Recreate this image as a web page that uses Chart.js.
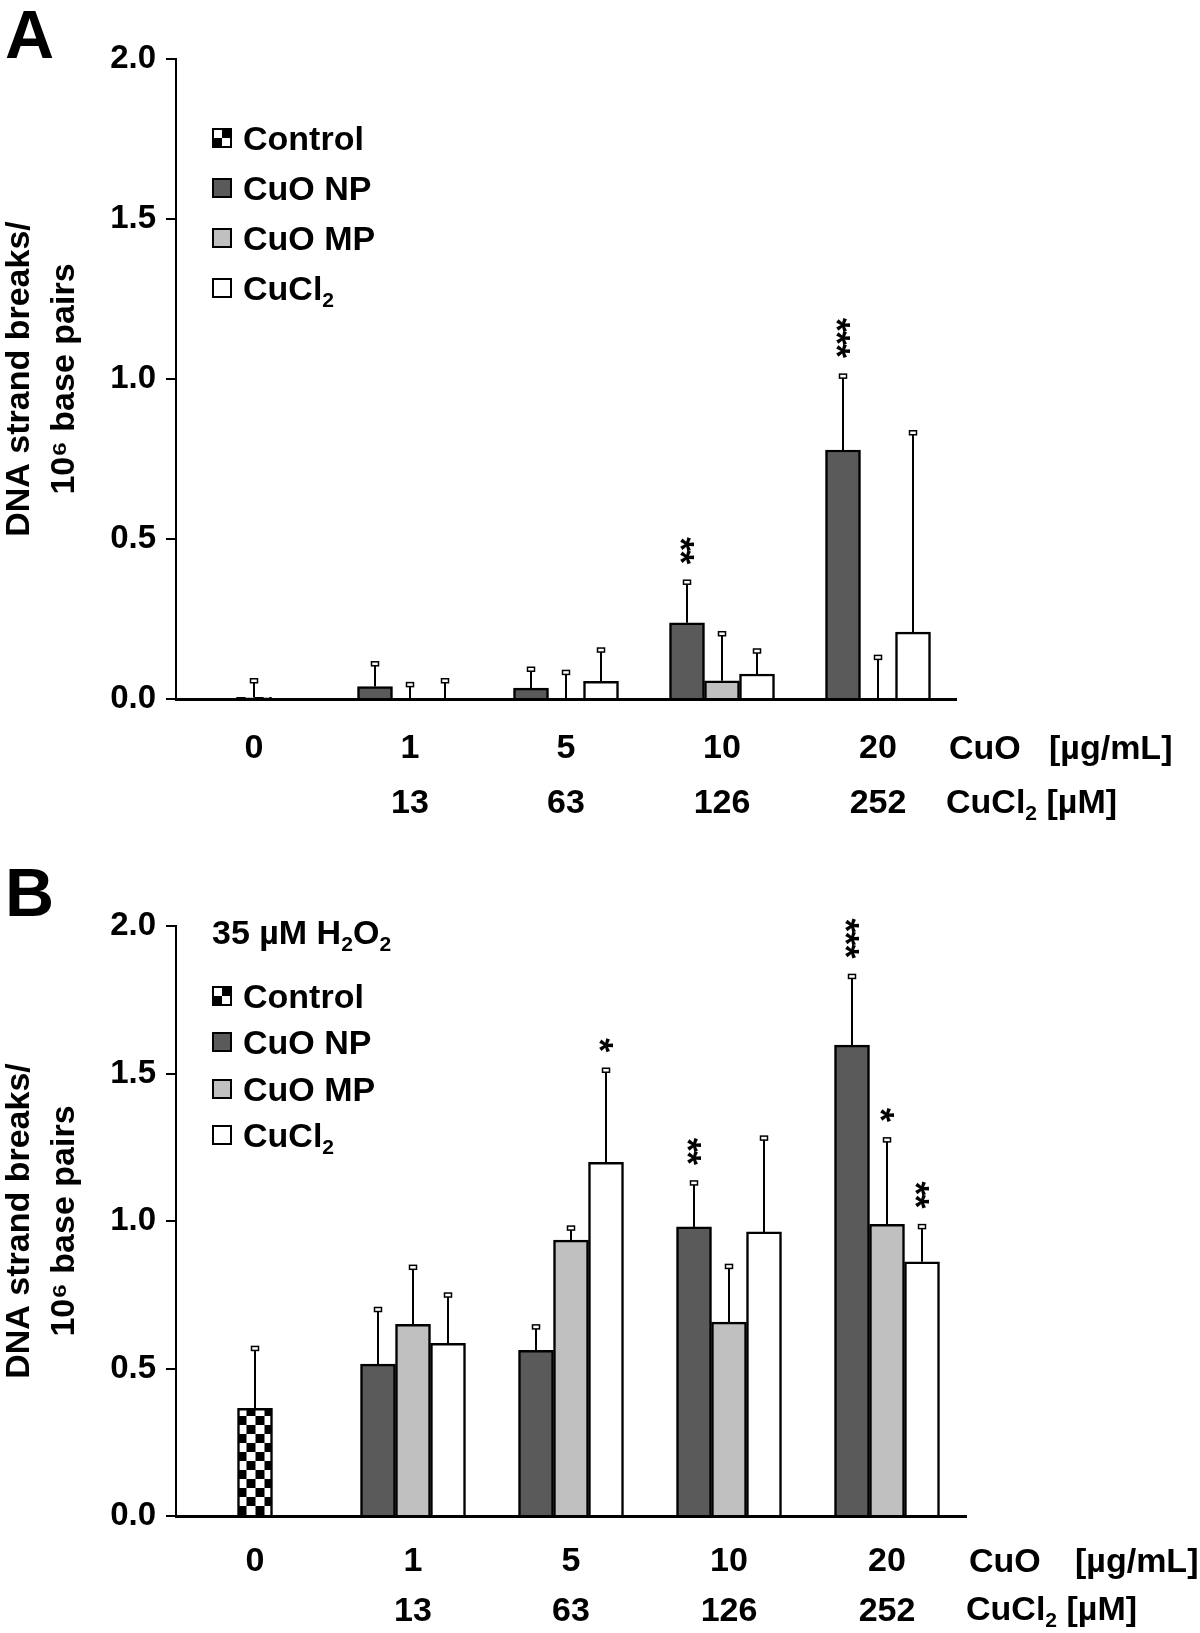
<!DOCTYPE html>
<html>
<head>
<meta charset="utf-8">
<script src="https://cdn.jsdelivr.net/npm/chart.js@4.4.1/dist/chart.umd.min.js"></script>
<style>
  html, body { margin: 0; padding: 0; background: #fff; }
  body { width: 1200px; height: 1633px; position: relative; overflow: hidden;
         font-family: 'Liberation Sans', Arial, sans-serif; font-weight: bold; color: #000; }
  .txt { position: absolute; font-size: 34px; line-height: 34px; height: 34px; white-space: nowrap; }
  .letra { position: absolute; font-size: 68px; line-height: 68px; }
  .leg { position: absolute; display: flex; align-items: center; font-size: 34px; line-height: 34px; height: 34px; white-space: nowrap; }
  .chip { width: 16px; height: 16px; border: 2px solid #000; margin-right: 11px; flex: none; }
  sub { font-size: 0.62em; vertical-align: -0.34em; line-height: 0; }
  canvas { position: absolute; left: 0; }
</style>
</head>
<body>
<div class="letra" style="left:5px;top:0px">A</div>
<div class="letra" style="left:5px;top:858px">B</div>
<canvas id="chartA" width="1200" height="840" style="top:0px"></canvas>
<canvas id="chartB" width="1200" height="783" style="top:850px"></canvas>

<script>
const FONT = "'Liberation Sans', Arial, sans-serif";

const CUO_DOSES = ['0', '1', '5', '10', '20'];
const CUCL2_DOSES = ['', '13', '63', '126', '252'];
const SERIES = ['Control', 'CuO NP', 'CuO MP', 'CuCl<sub>2</sub>'];
const Y_TICKS = [0, 0.5, 1.0, 1.5, 2.0];

// Panel A (no H2O2): mean, SD, significance
const A_CONTROL = [0.005, null, null, null, null];
const A_CONTROL_SD = [0.052, 0, 0, 0, 0];
const A_NP = [null, 0.039, 0.034, 0.238, 0.778];
const A_NP_SD = [0, 0.071, 0.059, 0.127, 0.231];
const A_NP_SIG = ['', '', '', '**', '***'];
const A_MP = [null, 0, 0, 0.057, 0];
const A_MP_SD = [0, 0.045, 0.083, 0.147, 0.130];
const A_CL = [null, 0, 0.055, 0.078, 0.209];
const A_CL_SD = [0, 0.057, 0.098, 0.072, 0.623];

// Panel B (35 µM H2O2)
const B_CONTROL = [0.365, null, null, null, null];
const B_CONTROL_SD = [0.203, 0, 0, 0, 0];
const B_NP = [null, 0.515, 0.562, 0.980, 1.596];
const B_NP_SD = [0, 0.185, 0.079, 0.149, 0.233];
const B_NP_SIG = ['', '', '', '**', '***'];
const B_MP = [null, 0.650, 0.935, 0.657, 0.989];
const B_MP_SD = [0, 0.193, 0.041, 0.189, 0.286];
const B_MP_SIG = ['', '', '', '', '*'];
const B_CL = [null, 0.585, 1.199, 0.963, 0.862];
const B_CL_SD = [0, 0.164, 0.312, 0.318, 0.119];
const B_CL_SIG = ['', '', '*', '', '**'];

function txt(html, x, yc) {
  const d = document.createElement('div');
  d.className = 'txt';
  d.style.left = x + 'px';
  d.style.top = (yc - 17) + 'px';
  d.innerHTML = html;
  document.body.appendChild(d);
}

function legenda(x, y0, passo) {
  const chips = [
    'background:conic-gradient(#000 0 25%, #fff 0 50%, #000 0 75%, #fff 0)',
    'background:#5a5a5a', 'background:#c0c0c0', 'background:#fff',
  ];
  SERIES.forEach((s, i) => {
    const row = document.createElement('div');
    row.className = 'leg';
    row.style.left = x + 'px';
    row.style.top = (y0 + i * passo - 17) + 'px';
    row.innerHTML = `<span class="chip" style="${chips[i]}"></span><span>${s}</span>`;
    document.body.appendChild(row);
  });
}

function xadrez(size) {
  const c = document.createElement('canvas');
  c.width = c.height = size * 2;
  const g = c.getContext('2d');
  g.fillStyle = '#fff'; g.fillRect(0, 0, size * 2, size * 2);
  g.fillStyle = '#000'; g.fillRect(size, 0, size, size); g.fillRect(0, size, size, size);
  return g.createPattern(c, 'repeat');
}

function drawStar(ctx, x, y) {
  ctx.save();
  ctx.font = `bold 36px ${FONT}`;
  ctx.textAlign = 'left';
  ctx.textBaseline = 'alphabetic';
  const m = ctx.measureText('*');
  const w = m.actualBoundingBoxRight + m.actualBoundingBoxLeft;
  ctx.translate(x, y);
  ctx.rotate(Math.PI / 2);
  ctx.fillStyle = '#000';
  ctx.fillText('*', -w / 2 + m.actualBoundingBoxLeft, (m.actualBoundingBoxAscent - m.actualBoundingBoxDescent) / 2);
  ctx.restore();
}

const errorBars = {
  id: 'errorBars',
  beforeDatasetsDraw(chart) {
    // align checker squares with the control bar
    const ds = chart.data.datasets[0];
    const bar = chart.getDatasetMeta(0).data[0];
    if (bar && ds.backgroundColor instanceof CanvasPattern) {
      ds.backgroundColor.setTransform(new DOMMatrix().translate(bar.x - bar.width / 2, bar.base));
    }
  },
  afterDatasetsDraw(chart) {
    const { ctx, scales: { y } } = chart;
    chart.data.datasets.forEach((ds, di) => {
      chart.getDatasetMeta(di).data.forEach((bar, i) => {
        const v = ds.data[i];
        if (v == null) return;
        const yTop = y.getPixelForValue(v + ds.sd[i]);
        ctx.save();
        ctx.strokeStyle = '#000';
        ctx.lineWidth = 2;
        ctx.beginPath(); ctx.moveTo(bar.x, bar.y); ctx.lineTo(bar.x, yTop); ctx.stroke();
        ctx.lineWidth = 1.5;
        ctx.fillStyle = '#fff';
        ctx.fillRect(bar.x - 3.5, yTop - 2, 7, 4);
        ctx.strokeRect(bar.x - 3.5, yTop - 2, 7, 4);
        ctx.restore();
        const sig = ds.sig ? ds.sig[i] : '';
        for (let k = 0; k < sig.length; k++) drawStar(ctx, bar.x, yTop - 25 - k * 13);
      });
    });
  },
};

function serie(label, data, sd, sig, cor) {
  return {
    label, data, sd, sig,
    backgroundColor: cor, borderColor: '#000', borderWidth: 2.5,
    barThickness: 35, skipNull: true,
  };
}

function montarPainel(canvasId, cfg) {
  const canvas = document.getElementById(canvasId);
  return new Chart(canvas.getContext('2d'), {
    type: 'bar',
    data: {
      labels: CUO_DOSES.map((d, i) => [d, CUCL2_DOSES[i]]),
      datasets: [
        serie('Control', cfg.control, cfg.controlSd, null, xadrez(9)),
        serie('CuO NP', cfg.np, cfg.npSd, cfg.npSig, '#5a5a5a'),
        serie('CuO MP', cfg.mp, cfg.mpSd, cfg.mpSig, '#c0c0c0'),
        serie('CuCl2', cfg.cl, cfg.clSd, cfg.clSig, '#ffffff'),
      ],
    },
    options: {
      responsive: false,
      animation: false,
      layout: { padding: { top: cfg.top, right: 1200 - cfg.right, left: 0, bottom: 0 } },
      plugins: { legend: { display: false }, tooltip: { enabled: false } },
      scales: {
        x: {
          offset: true,
          afterFit: s => { s.height = canvas.height - cfg.bottom; },
          grid: { display: false, drawTicks: false },
          border: { display: true, color: '#000', width: 3 },
          ticks: {
            color: '#000', padding: cfg.labelPad, maxRotation: 0, autoSkip: false,
            font: { family: FONT, size: 34, weight: 'bold', lineHeight: cfg.lineH },
          },
        },
        y: {
          min: 0, max: 2,
          afterBuildTicks: s => { s.ticks = Y_TICKS.map(v => ({ value: v })); },
          afterFit: s => { s.width = 176; },
          grid: { drawOnChartArea: false, drawTicks: true, tickLength: 10, color: '#000', lineWidth: 2 },
          border: { display: true, color: '#000', width: 2 },
          ticks: {
            color: '#000', padding: 10, callback: v => v.toFixed(1),
            font: { family: FONT, size: 33, weight: 'bold' },
          },
          title: {
            display: true, color: '#000',
            text: ['DNA strand breaks/', '10\u2076 base pairs'],
            font: { family: FONT, size: 34, weight: 'bold', lineHeight: 1.3 },
            padding: { top: -2, bottom: 0 },
          },
        },
      },
    },
    plugins: [errorBars],
  });
}

montarPainel('chartA', {
  top: 59, bottom: 699, right: 956, lineH: 1.62, labelPad: 22,
  control: A_CONTROL, controlSd: A_CONTROL_SD,
  np: A_NP, npSd: A_NP_SD, npSig: A_NP_SIG,
  mp: A_MP, mpSd: A_MP_SD, mpSig: null,
  cl: A_CL, clSd: A_CL_SD, clSig: null,
});

montarPainel('chartB', {
  top: 76, bottom: 666, right: 966, lineH: 1.46, labelPad: 21,
  control: B_CONTROL, controlSd: B_CONTROL_SD,
  np: B_NP, npSd: B_NP_SD, npSig: B_NP_SIG,
  mp: B_MP, mpSd: B_MP_SD, mpSig: B_MP_SIG,
  cl: B_CL, clSd: B_CL_SD, clSig: B_CL_SIG,
});

legenda(212, 138, 50);
legenda(212, 996, 46.3);
txt('35 µM H<sub>2</sub>O<sub>2</sub>', 212, 932);

txt('CuO', 949, 747); txt('[µg/mL]', 1049, 747);
txt('CuCl<sub>2</sub> [µM]', 946, 801);
txt('CuO', 969, 1560); txt('[µg/mL]', 1075, 1560);
txt('CuCl<sub>2</sub> [µM]', 966, 1608);
</script>
</body>
</html>
